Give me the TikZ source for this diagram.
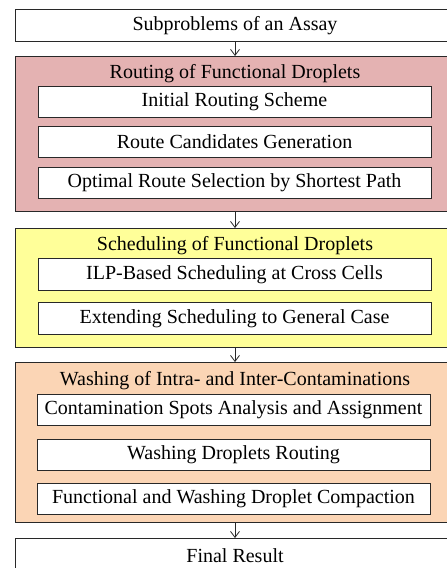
\documentclass[tikz,border=0pt]{standalone}
\usepackage{fontspec}
\setmainfont{Liberation Serif}
\usetikzlibrary{arrows.meta}
\definecolor{routefill}{RGB}{228,178,178}
\definecolor{schedfill}{RGB}{255,255,153}
\definecolor{washfill}{RGB}{251,213,181}
\definecolor{edge}{RGB}{40,40,40}
\tikzset{
  outer/.style={draw=edge, line width=1pt, minimum width=440pt, anchor=north, inner sep=0pt},
  inner/.style={draw=edge, line width=1pt, fill=white, minimum width=393pt, anchor=north, inner sep=0pt, font=\fontsize{20}{23}\selectfont},
  ttl/.style={font=\fontsize{20}{23}\selectfont, inner sep=0pt},
  flow/.style={draw=edge, line width=0.8pt, -{Straight Barb[length=6pt,width=9pt]}},
}
\begin{document}
\begin{tikzpicture}[x=1pt,y=-1pt]
\clip (0,0) rectangle (447,568);
\fill[white] (0,0) rectangle (447,568);
% top
\node[outer, fill=white, minimum height=32pt, font=\fontsize{20}{23}\selectfont] (sub) at (235,9) {Subproblems of an Assay};
% routing
\node[outer, fill=routefill, minimum height=155pt] (route) at (235,56) {};
\node[ttl] (routeT) at (235,74) {Routing of Functional Droplets};
\node[inner, minimum height=31pt] (r1) at (234.5,86) {Initial Routing Scheme};
\node[inner, minimum height=31pt] (r2) at (234.5,126) {Route Candidates Generation};
\node[inner, minimum height=31pt] (r3) at (234.5,167) {Optimal Route Selection by Shortest Path};
% scheduling
\node[outer, fill=schedfill, minimum height=119pt] (sched) at (235,228) {};
\node[ttl] (schedT) at (235,246) {Scheduling of Functional Droplets};
\node[inner, minimum height=32pt] (s1) at (234.5,258) {ILP-Based Scheduling at Cross Cells};
\node[inner, minimum height=32pt] (s2) at (234.5,302) {Extending Scheduling to General Case};
% washing
\node[outer, fill=washfill, minimum height=160pt] (wash) at (235,362) {};
\node[ttl] (washT) at (235,381) {Washing of Intra- and Inter-Contaminations};
\node[inner, minimum height=31pt] (w1) at (233.5,394) {Contamination Spots Analysis and Assignment};
\node[inner, minimum height=31pt] (w2) at (233.5,439) {Washing Droplets Routing};
\node[inner, minimum height=31pt] (w3) at (233.5,483) {Functional and Washing Droplet Compaction};
% final
\node[outer, fill=white, minimum height=40pt] (fin) at (235,538) {};
\node[ttl] (finT) at (235,556) {Final Result};
% arrows
\draw[flow] (sub.south) -- (route.north);
\draw[flow] (route.south) -- (sched.north);
\draw[flow] (sched.south) -- (wash.north);
\draw[flow] (wash.south) -- (fin.north);
\end{tikzpicture}
\end{document}
